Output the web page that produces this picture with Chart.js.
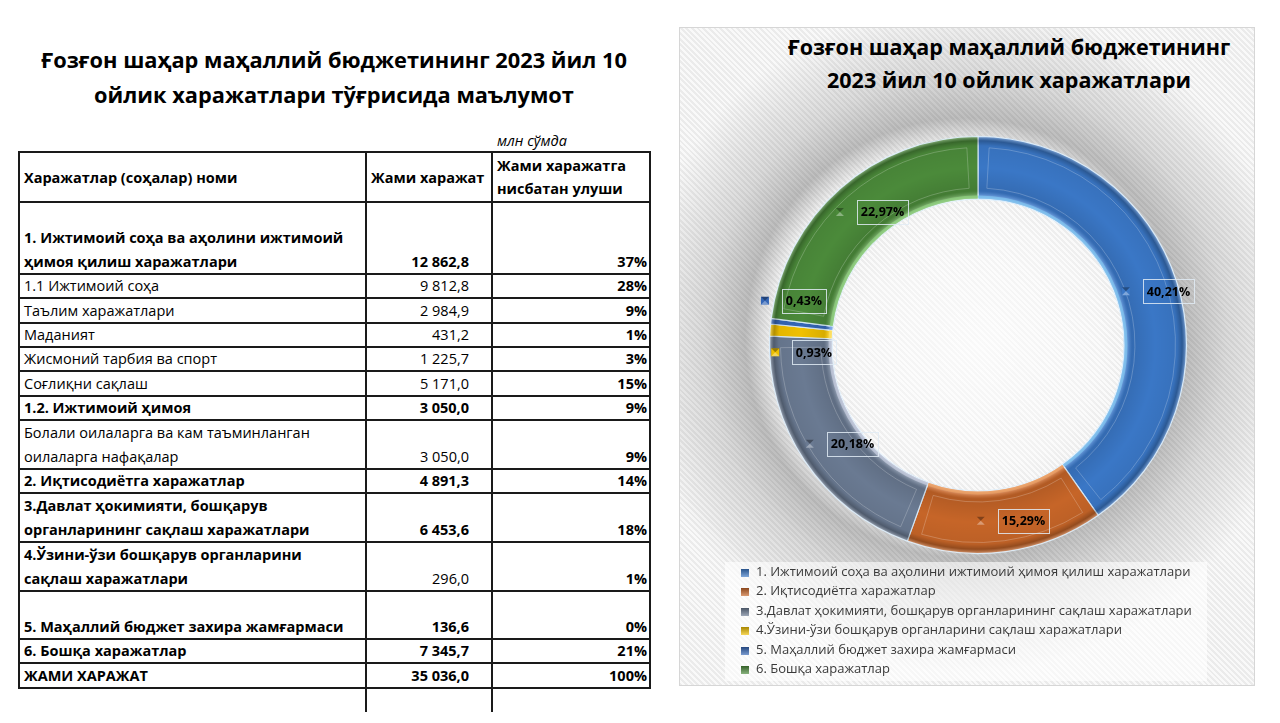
<!DOCTYPE html>
<html>
<head>
<meta charset="utf-8">
<script src="https://cdn.jsdelivr.net/npm/chart.js@4.4.1/dist/chart.umd.min.js"></script>
<style>
  body { margin: 0; width: 1280px; height: 723px; background: #fff; position: relative; overflow: hidden; font-family: 'Open Sans', 'Noto Sans', sans-serif; color: #000; }
  #mainTitle { position: absolute; left: 18px; width: 632px; top: 42px; text-align: center; font-weight: bold; font-size: 21.8px; line-height: 35px; }
  #unit { position: absolute; left: 497px; top: 131px; font-style: italic; font-size: 14.5px; line-height: 20px; }
  #tbl { position: absolute; left: 18px; top: 151px; border-collapse: collapse; table-layout: fixed; font-size: 14.5px; }
  #tbl td { border: 2px solid #1a1a1a; padding: 0 4px; vertical-align: bottom; white-space: pre; line-height: 22px; overflow: hidden; }
  #tbl td.two { line-height: 23.5px; }
  #tbl td.hd { vertical-align: middle; font-weight: bold; line-height: 23px; }
  #tbl td.val { text-align: right; padding-right: 22px; }
  #tbl td.pct { text-align: right; padding-right: 2px; }
  #tbl td.b { font-weight: bold; }
  .stub { position: absolute; top: 687px; width: 2px; height: 25px; background: #1a1a1a; }
  #panel { position: absolute; left: 679px; top: 27px; width: 574px; height: 657px; border: 1px solid #d6d6d6;
    background:
      radial-gradient(circle at 299px 318px, rgba(255,255,255,0.7) 0px, rgba(255,255,255,0.35) 120px, rgba(255,255,255,0) 150px),
      radial-gradient(circle at 285px 310px, rgba(0,0,0,0) 190px, rgba(0,0,0,0.24) 220px, rgba(0,0,0,0.12) 262px, rgba(0,0,0,0) 335px),
      repeating-linear-gradient(45deg, #ebebeb 0px, #ebebeb 2px, #f9f9f9 2px, #f9f9f9 4px); }
  #chartTitle { position: absolute; left: 764px; width: 490px; top: 30px; text-align: center; font-weight: bold; font-size: 21.5px; line-height: 33px; }
  #legendBack { position: absolute; left: 725px; top: 562px; width: 482px; height: 119px; background: rgba(255,255,255,0.6); }
  #chartBox { position: absolute; left: 679px; top: 27px; width: 575px; height: 658px; }
  #legend { position: absolute; left: 741px; top: 562px; margin: 0; padding: 0; list-style: none; font-size: 13px; color: #3a3a3a; }
  #legend li { height: 19.4px; line-height: 19.4px; white-space: nowrap; }
  #legend .mk { display: inline-block; width: 8px; height: 8px; margin-right: 7px; vertical-align: -1px; }
</style>
</head>
<body>
<div id="mainTitle">Ғозғон шаҳар маҳаллий бюджетининг 2023 йил 10<br>ойлик харажатлари тўғрисида маълумот</div>
<div id="unit">млн сўмда</div>
<table id="tbl"></table>
<div class="stub" style="left:365px"></div>
<div class="stub" style="left:491px"></div>

<div id="panel"></div>
<div id="chartTitle">Ғозғон шаҳар маҳаллий бюджетининг<br>2023 йил 10 ойлик харажатлари</div>
<div id="legendBack"></div>
<div id="chartBox"><canvas id="xarajatChart"></canvas></div>
<ul id="legend"></ul>

<script>
// Диаграмма маълумотлари (млн сўмда)
const categories = [
  '1. Ижтимоий соҳа ва аҳолини ижтимоий ҳимоя қилиш харажатлари',
  '2. Иқтисодиётга харажатлар',
  '3.Давлат ҳокимияти, бошқарув органларининг сақлаш харажатлари',
  '4.Ўзини-ўзи бошқарув органларини сақлаш харажатлари',
  '5. Маҳаллий бюджет захира жамғармаси',
  '6. Бошқа харажатлар'
];
const expenses = [12862.8, 4891.3, 6453.6, 296.0, 136.6, 7345.7];
const sliceColors = ['#3a77c6', '#c66528', '#6a7a92', '#f0c000', '#3466b6', '#4b8a3a'];
// бўлакнинг ички четидаги ёруғ ранг
const edgeColors = ['#7cc4f2', '#eea060', '#c4cce0', '#ffe060', '#7ca8f0', '#8cd27a'];

// Жадвал маълумотлари
const headers = ['Харажатлар (соҳалар) номи', 'Жами харажат', 'Жами харажатга\nнисбатан улуши'];
const rowNames = [
  '1. Ижтимоий соҳа ва аҳолини ижтимоий\nҳимоя қилиш харажатлари',
  '1.1 Ижтимоий соҳа',
  'Таълим харажатлари',
  'Маданият',
  'Жисмоний тарбия ва спорт',
  'Соғлиқни сақлаш',
  '1.2. Ижтимоий ҳимоя',
  'Болали оилаларга ва кам таъминланган\nоилаларга нафақалар',
  '2. Иқтисодиётга харажатлар',
  '3.Давлат ҳокимияти, бошқарув\nорганларининг сақлаш харажатлари',
  '4.Ўзини-ўзи бошқарув органларини\nсақлаш харажатлари',
  '5. Маҳаллий бюджет захира жамғармаси',
  '6. Бошқа харажатлар',
  'ЖАМИ ХАРАЖАТ'
];
const rowValues = [12862.8, 9812.8, 2984.9, 431.2, 1225.7, 5171.0, 3050.0, 3050.0, 4891.3, 6453.6, 296.0, 136.6, 7345.7, 35036.0];

// жадвал кўриниши
const rowHeights = [72, 24, 25, 24, 24, 25, 24, 49, 24, 49, 49, 48, 24, 25];
const boldName = [0, 6, 8, 9, 10, 11, 12, 13];
const boldValue = [0, 6, 8, 9, 11, 12, 13];

function fmt(v) {
  const p = v.toFixed(1).split('.');
  return p[0].replace(/\B(?=(\d{3})+(?!\d))/g, ' ') + ',' + p[1];
}

const total = rowValues[rowValues.length - 1];
let html = '<colgroup><col style="width:347px"><col style="width:126px"><col style="width:158px"></colgroup>';
html += '<tr style="height:50px">' + headers.map(h => '<td class="hd">' + h + '</td>').join('') + '</tr>';
rowNames.forEach(function (name, i) {
  const share = Math.round(rowValues[i] / total * 100) + '%';
  const two = name.indexOf('\n') > 0 ? ' two' : '';
  html += '<tr style="height:' + rowHeights[i] + 'px">' +
    '<td class="nm' + two + (boldName.includes(i) ? ' b' : '') + '">' + name + '</td>' +
    '<td class="val' + (boldValue.includes(i) ? ' b' : '') + '">' + fmt(rowValues[i]) + '</td>' +
    '<td class="pct b">' + share + '</td></tr>';
});
document.getElementById('tbl').innerHTML = html;

// Ҳалқа бўлакларига ҳажм берувчи соя
const ringBevel = {
  id: 'ringBevel',
  afterDatasetsDraw(chart, args, opts) {
    const ctx = chart.ctx;
    chart.getDatasetMeta(0).data.forEach(function (arc, i) {
      const a = arc.getProps(['x', 'y', 'startAngle', 'endAngle', 'innerRadius', 'outerRadius']);
      ctx.save();
      ctx.beginPath();
      ctx.arc(a.x, a.y, a.outerRadius, a.startAngle, a.endAngle);
      ctx.arc(a.x, a.y, a.innerRadius, a.endAngle, a.startAngle, true);
      ctx.closePath();
      ctx.clip();
      const g = ctx.createRadialGradient(a.x, a.y, a.innerRadius, a.x, a.y, a.outerRadius);
      g.addColorStop(0, 'rgba(255,255,255,0.6)');
      g.addColorStop(0.07, 'rgba(255,255,255,0.15)');
      g.addColorStop(0.13, 'rgba(0,0,0,0.1)');
      g.addColorStop(0.5, 'rgba(0,0,0,0)');
      g.addColorStop(0.85, 'rgba(0,0,0,0.05)');
      g.addColorStop(0.93, 'rgba(0,0,0,0.25)');
      g.addColorStop(1, 'rgba(255,255,255,0.35)');
      ctx.fillStyle = g;
      ctx.fillRect(a.x - a.outerRadius, a.y - a.outerRadius, a.outerRadius * 2, a.outerRadius * 2);
      // ички чет ёруғ чизиғи
      ctx.beginPath();
      ctx.arc(a.x, a.y, a.innerRadius + 2, a.startAngle, a.endAngle);
      ctx.strokeStyle = opts.edge[i];
      ctx.globalAlpha = 0.7;
      ctx.lineWidth = 3;
      ctx.stroke();
      ctx.globalAlpha = 1;
      // ички ҳошия чизиғи
      const rOut = a.outerRadius - 11, rIn = a.innerRadius + 11;
      const d = 10 / ((rOut + rIn) / 2);
      if (a.endAngle - a.startAngle > 2 * d) {
        ctx.beginPath();
        ctx.arc(a.x, a.y, rOut, a.startAngle + d, a.endAngle - d);
        ctx.arc(a.x, a.y, rIn, a.endAngle - d, a.startAngle + d, true);
        ctx.closePath();
        ctx.strokeStyle = 'rgba(255,255,255,0.22)';
        ctx.lineWidth = 1;
        ctx.stroke();
      }
      ctx.restore();
    });
  }
};

function drawMarker(ctx, cx, cy, color) {
  const s = 4;
  ctx.fillStyle = color;
  ctx.fillRect(cx - s, cy - s, 2 * s, 2 * s);
  ctx.fillStyle = 'rgba(0,0,0,0.35)';
  ctx.beginPath(); ctx.moveTo(cx - s, cy - s); ctx.lineTo(cx + s, cy - s); ctx.lineTo(cx, cy); ctx.closePath(); ctx.fill();
  ctx.fillStyle = 'rgba(255,255,255,0.35)';
  ctx.beginPath(); ctx.moveTo(cx - s, cy + s); ctx.lineTo(cx + s, cy + s); ctx.lineTo(cx, cy); ctx.closePath(); ctx.fill();
}

// Фоиз ёрлиқлари
const sliceLabels = {
  id: 'sliceLabels',
  afterDatasetsDraw(chart, args, opts) {
    const ctx = chart.ctx;
    const ds = chart.data.datasets[0];
    const sum = ds.data.reduce((s, v) => s + v, 0);
    chart.getDatasetMeta(0).data.forEach(function (arc, i) {
      const c = arc.tooltipPosition();
      const sh = opts.shift[i] || [0, 0];
      const x = c.x + sh[0], y = c.y + sh[1];
      const text = (ds.data[i] / sum * 100).toFixed(2).replace('.', ',') + '%';
      ctx.save();
      drawMarker(ctx, x - 21, y, ds.backgroundColor[i]);
      ctx.font = opts.font;
      const w = Math.round(ctx.measureText(text).width + 8);
      ctx.strokeStyle = 'rgba(225,235,245,0.85)';
      ctx.lineWidth = 1;
      ctx.strokeRect(Math.round(x - 4) + 0.5, Math.round(y - 12) + 0.5, w, 24);
      ctx.fillStyle = '#000';
      ctx.textAlign = 'center';
      ctx.textBaseline = 'middle';
      ctx.fillText(text, Math.round(x - 4) + w / 2, y + 1);
      ctx.restore();
    });
  }
};

// HTML легенда
const htmlLegend = {
  id: 'htmlLegend',
  afterUpdate(chart, args, opts) {
    const ul = document.getElementById(opts.containerID);
    ul.innerHTML = '';
    chart.options.plugins.legend.labels.generateLabels(chart).forEach(function (item) {
      const li = document.createElement('li');
      const box = document.createElement('span');
      box.className = 'mk';
      box.style.background = 'linear-gradient(180deg, rgba(0,0,0,0.3), rgba(255,255,255,0.35)), ' + item.fillStyle;
      li.appendChild(box);
      li.appendChild(document.createTextNode(item.text));
      ul.appendChild(li);
    });
  }
};

const ctx = document.getElementById('xarajatChart').getContext('2d');
const myChart = new Chart(ctx, {
  type: 'doughnut',
  data: {
    labels: categories,
    datasets: [{
      data: expenses,
      backgroundColor: sliceColors,
      borderColor: 'rgba(220,240,255,0.9)',
      borderWidth: 1.2,
      radius: 208.5,
      cutout: '70%'
    }]
  },
  options: {
    responsive: true,
    maintainAspectRatio: false,
    animation: false,
    layout: { padding: { left: 81, right: 58, top: 100, bottom: 122 } },
    plugins: {
      legend: { display: false },
      tooltip: { enabled: false },
      htmlLegend: { containerID: 'legend' },
      ringBevel: { edge: edgeColors },
      sliceLabels: {
        font: 'bold 12.5px "Open Sans"',
        shift: { 3: [-5, 20], 4: [-16, -24] }
      }
    }
  },
  plugins: [ringBevel, sliceLabels, htmlLegend]
});
</script>
</body>
</html>
